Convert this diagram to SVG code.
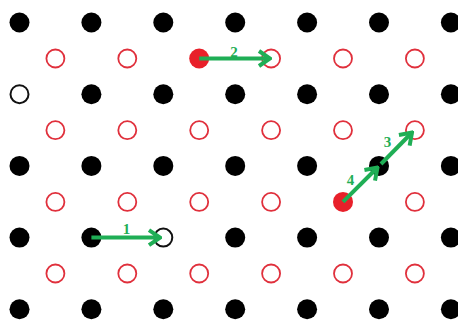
<svg xmlns="http://www.w3.org/2000/svg" width="458" height="320" viewBox="0 0 458 320">
  <style>
    .atom { fill: #000; }
    .site { fill: none; stroke: #e0303c; stroke-width: 1.8; }
    .red-atom { fill: #e8202a; }
    .vacancy { fill: none; stroke: #111; stroke-width: 2; }
    .hop { stroke: #1fae55; stroke-width: 4; fill: none; stroke-linecap: butt; }
    .label { font-family: "Liberation Serif", serif; font-weight: bold; font-size: 15px; fill: #1fae55; text-anchor: middle; }
  </style>
  <defs>
    <marker id="chevron" markerUnits="userSpaceOnUse" viewBox="-14 -10 16 20" markerWidth="16" markerHeight="20" refX="0" refY="0" orient="auto">
      <polyline points="-11,-7.5 0,0 -11,7.5" fill="none" stroke="#1fae55" stroke-width="4" stroke-linejoin="miter"/>
    </marker>
  </defs>
  <rect width="458" height="320" fill="#fff"/>

  <!-- lattice atoms (black) -->
  <g id="atoms">
    <circle class="atom" cx="19.5" cy="22.5" r="10"/>
    <circle class="atom" cx="91.4" cy="22.5" r="10"/>
    <circle class="atom" cx="163.3" cy="22.5" r="10"/>
    <circle class="atom" cx="235.2" cy="22.5" r="10"/>
    <circle class="atom" cx="307.1" cy="22.5" r="10"/>
    <circle class="atom" cx="379" cy="22.5" r="10"/>
    <circle class="atom" cx="450.9" cy="22.5" r="10"/>

    <circle class="atom" cx="91.4" cy="94.2" r="10"/>
    <circle class="atom" cx="163.3" cy="94.2" r="10"/>
    <circle class="atom" cx="235.2" cy="94.2" r="10"/>
    <circle class="atom" cx="307.1" cy="94.2" r="10"/>
    <circle class="atom" cx="379" cy="94.2" r="10"/>
    <circle class="atom" cx="450.9" cy="94.2" r="10"/>

    <circle class="atom" cx="19.5" cy="165.9" r="10"/>
    <circle class="atom" cx="91.4" cy="165.9" r="10"/>
    <circle class="atom" cx="163.3" cy="165.9" r="10"/>
    <circle class="atom" cx="235.2" cy="165.9" r="10"/>
    <circle class="atom" cx="307.1" cy="165.9" r="10"/>
    <circle class="atom" cx="379" cy="165.9" r="10"/>
    <circle class="atom" cx="450.9" cy="165.9" r="10"/>

    <circle class="atom" cx="19.5" cy="237.6" r="10"/>
    <circle class="atom" cx="91.4" cy="237.6" r="10"/>
    <circle class="atom" cx="235.2" cy="237.6" r="10"/>
    <circle class="atom" cx="307.1" cy="237.6" r="10"/>
    <circle class="atom" cx="379" cy="237.6" r="10"/>
    <circle class="atom" cx="450.9" cy="237.6" r="10"/>

    <circle class="atom" cx="19.5" cy="309.3" r="10"/>
    <circle class="atom" cx="91.4" cy="309.3" r="10"/>
    <circle class="atom" cx="163.3" cy="309.3" r="10"/>
    <circle class="atom" cx="235.2" cy="309.3" r="10"/>
    <circle class="atom" cx="307.1" cy="309.3" r="10"/>
    <circle class="atom" cx="379" cy="309.3" r="10"/>
    <circle class="atom" cx="450.9" cy="309.3" r="10"/>
  </g>

  <!-- vacant lattice sites -->
  <g id="vacancies">
    <circle class="vacancy" cx="19.5" cy="94.2" r="9"/>
    <circle class="vacancy" cx="163.3" cy="237.6" r="9"/>
  </g>

  <!-- interstitial sites (red rings) -->
  <g id="sites">
    <circle class="site" cx="55.4" cy="58.5" r="9"/>
    <circle class="site" cx="127.3" cy="58.5" r="9"/>
    <circle class="site" cx="271.1" cy="58.5" r="9"/>
    <circle class="site" cx="343" cy="58.5" r="9"/>
    <circle class="site" cx="414.9" cy="58.5" r="9"/>

    <circle class="site" cx="55.4" cy="130.2" r="9"/>
    <circle class="site" cx="127.3" cy="130.2" r="9"/>
    <circle class="site" cx="199.2" cy="130.2" r="9"/>
    <circle class="site" cx="271.1" cy="130.2" r="9"/>
    <circle class="site" cx="343" cy="130.2" r="9"/>
    <circle class="site" cx="414.9" cy="130.2" r="9"/>

    <circle class="site" cx="55.4" cy="201.9" r="9"/>
    <circle class="site" cx="127.3" cy="201.9" r="9"/>
    <circle class="site" cx="199.2" cy="201.9" r="9"/>
    <circle class="site" cx="271.1" cy="201.9" r="9"/>
    <circle class="site" cx="414.9" cy="201.9" r="9"/>

    <circle class="site" cx="55.4" cy="273.5" r="9"/>
    <circle class="site" cx="127.3" cy="273.5" r="9"/>
    <circle class="site" cx="199.2" cy="273.5" r="9"/>
    <circle class="site" cx="271.1" cy="273.5" r="9"/>
    <circle class="site" cx="343" cy="273.5" r="9"/>
    <circle class="site" cx="414.9" cy="273.5" r="9"/>
  </g>

  <!-- interstitial atoms (filled red) -->
  <g id="interstitials">
    <circle class="red-atom" cx="199.2" cy="58.5" r="10"/>
    <circle class="red-atom" cx="343" cy="201.9" r="10"/>
  </g>

  <!-- jump paths -->
  <g id="connectors">
    <line class="hop" x1="91.4" y1="237.6" x2="160" y2="237.6" marker-end="url(#chevron)"/>
    <line class="hop" x1="199.2" y1="58.5" x2="270" y2="58.5" marker-end="url(#chevron)"/>
    <line class="hop" x1="381" y1="164" x2="412" y2="132.5" marker-end="url(#chevron)"/>
    <line class="hop" x1="343" y1="201.9" x2="377.5" y2="167.5" marker-end="url(#chevron)"/>
  </g>

  <g id="labels">
    <text class="label" x="126.5" y="234">1</text>
    <text class="label" x="234" y="56.5">2</text>
    <text class="label" x="387.5" y="147">3</text>
    <text class="label" x="350.5" y="185">4</text>
  </g>
</svg>
